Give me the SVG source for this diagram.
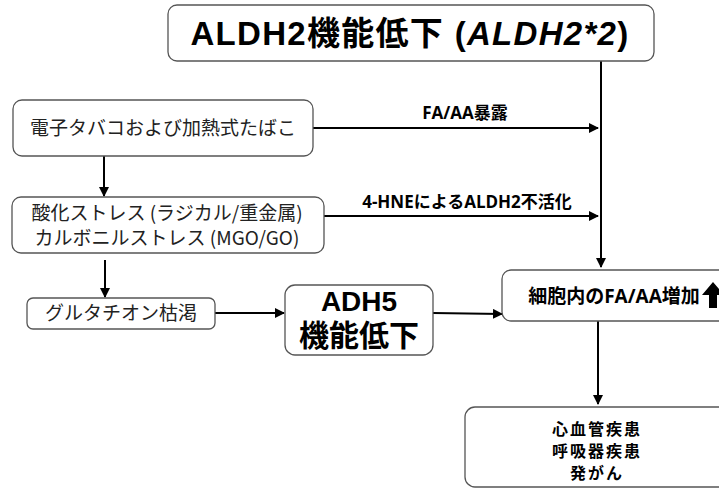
<svg xmlns="http://www.w3.org/2000/svg" width="719" height="495" viewBox="0 0 719 495">
<defs>
<marker id="ah" viewBox="0 0 10 10" refX="9" refY="5" markerWidth="5" markerHeight="5" orient="auto" markerUnits="strokeWidth">
<path d="M0,0 L10,5 L0,10 z" fill="#000"/>
</marker>
<style>
.box{fill:#fff;stroke:#555;stroke-width:1.3}
.edge{stroke:#000;stroke-width:2;fill:none;marker-end:url(#ah)}
.jp{font-family:"Noto Sans CJK JP","Liberation Sans",sans-serif;fill:#222;text-anchor:middle;font-size:19px}
.bold{font-family:"Liberation Sans","Noto Sans CJK JP",sans-serif;font-weight:bold;fill:#000;text-anchor:middle}
.lbl{font-family:"Open Sans","Noto Sans CJK JP",sans-serif;font-weight:bold;fill:#000;text-anchor:middle}
</style>
</defs>
<g id="connectors">
<path class="edge" d="M601,61 V267"/>
<path class="edge" d="M312,128 H598"/>
<text class="lbl" x="465" y="119" font-size="17">FA/AA暴露</text>
<path class="edge" d="M104,156 V196"/>
<path class="edge" d="M324,216 H598"/>
<text class="lbl" x="467" y="208" font-size="17">4-HNEによるALDH2不活化</text>
<path class="edge" d="M105,260 V297"/>
<path class="edge" d="M215,313 H284"/>
<path class="edge" d="M433,313 L502,314"/>
<path class="edge" d="M598,321 V404"/>
</g>
<g id="n-aldh2">
<rect class="box" x="168" y="5" width="486" height="56" rx="9" stroke="#888"/>
<text class="bold" x="410" y="45" font-size="33" letter-spacing="1.3">ALDH2機能低下 (<tspan font-style="italic">ALDH2*2</tspan>)</text>
</g>
<g id="n-ecig">
<rect class="box" x="13" y="100" width="300" height="56" rx="9"/>
<text class="jp" x="163" y="135">電子タバコおよび加熱式たばこ</text>
</g>
<g id="n-stress">
<rect class="box" x="12" y="197" width="312" height="56" rx="9"/>
<text class="jp" x="167" y="220">酸化ストレス (ラジカル/重金属)</text>
<text class="jp" x="167" y="245">カルボニルストレス (MGO/GO)</text>
</g>
<g id="n-gsh">
<rect class="box" x="27" y="298" width="188" height="31" rx="6"/>
<text class="jp" x="121" y="320">グルタチオン枯渇</text>
</g>
<g id="n-adh5">
<rect class="box" x="285" y="285" width="148" height="70" rx="10"/>
<text class="bold" x="359" y="311" font-size="28">ADH5</text>
<text class="bold" x="359" y="346" font-size="30">機能低下</text>
</g>
<g id="n-faaa">
<rect class="box" x="502" y="270" width="230" height="51" rx="9"/>
<text class="lbl" x="614" y="303" font-size="19">細胞内のFA/AA増加</text>
<polygon points="713,282 724,295 717,295 717,308 709,308 709,295 702,295" fill="#000"/>
</g>
<g id="n-disease">
<rect class="box" x="465" y="407" width="270" height="80" rx="10"/>
<text class="lbl" x="597" y="435" font-size="16" letter-spacing="2">心血管疾患</text>
<text class="lbl" x="597" y="457" font-size="16" letter-spacing="2">呼吸器疾患</text>
<text class="lbl" x="597" y="479" font-size="16" letter-spacing="2">発がん</text>
</g>
</svg>
